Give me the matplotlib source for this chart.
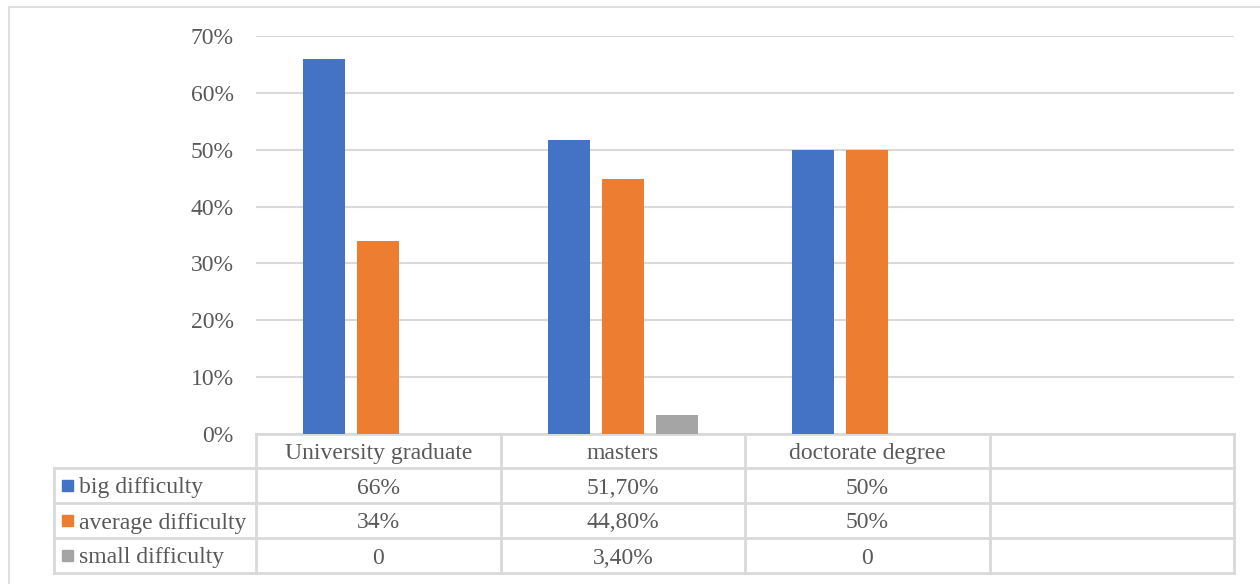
import matplotlib.pyplot as plt
from matplotlib.patches import Rectangle
from matplotlib.lines import Line2D

plt.rcParams['font.family'] = ['Liberation Serif', 'DejaVu Serif']

categories = ["University graduate", "masters", "doctorate degree", ""]
series_names = ["big difficulty", "average difficulty", "small difficulty"]
big = [0.66, 0.517, 0.50, None]
average = [0.34, 0.448, 0.50, None]
small = [0.0, 0.034, 0.0, None]
table_text = [
    ["66%", "51,70%", "50%", ""],
    ["34%", "44,80%", "50%", ""],
    ["0", "3,40%", "0", ""],
]
yticks = [0, 0.1, 0.2, 0.3, 0.4, 0.5, 0.6, 0.7]
colors = ["#4472C4", "#ED7D31", "#A5A5A5"]
text_col = "#595959"
line_col = "#D9D9D9"
fs = 17

W, H = 1260, 584
fig = plt.figure(figsize=(W / 100, H / 100), dpi=100)

# chart area border
fig.patches.append(Rectangle((8.5 / W, -0.05), 1.2, 1 - 6.5 / H + 0.05,
                             transform=fig.transFigure, fill=False,
                             edgecolor=line_col, linewidth=1.2))

left, right, top, bottom = 256, 1234, 36, 434
ax = fig.add_axes([left / W, 1 - bottom / H, (right - left) / W, (bottom - top) / H])

n = len(categories)
width = 0.172
step = 0.221
for k, (vals, color) in enumerate(zip([big, average, small], colors)):
    xs = [i + (k - 1) * step for i in range(n) if vals[i] is not None]
    hs = [v for v in vals if v is not None]
    ax.bar(xs, hs, width=width, color=color, zorder=3)

ax.set_xlim(-0.5, n - 0.5)
ax.set_ylim(0, 0.7)
ax.set_yticks(yticks)
ax.set_yticklabels([f"{int(round(t * 100))}%" for t in yticks])
ax.tick_params(axis='y', length=0, pad=16, labelsize=fs, labelcolor=text_col)
ax.tick_params(axis='x', length=0, labelbottom=False)
ax.grid(axis='y', color=line_col, linewidth=1.5, zorder=0)
for s in ax.spines.values():
    s.set_visible(False)

# data table below the plot
ax_h = bottom - top
row_edges = [0, -34 / ax_h, -69 / ax_h, -104 / ax_h, -139 / ax_h]
label_left = (54 - left) / (right - left)
tx = ax.get_xaxis_transform()
lw = 2.0

def hline(x0, x1, y, transform):
    ax.add_line(Line2D([x0, x1], [y, y], transform=transform, color=line_col,
                       linewidth=lw, clip_on=False, zorder=2))

def vline(x, y0, y1, transform):
    ax.add_line(Line2D([x, x], [y0, y1], transform=transform, color=line_col,
                       linewidth=lw, clip_on=False, zorder=2))

hline(-0.5, n - 0.5, row_edges[0], tx)
for y in row_edges[1:]:
    hline(label_left, 1, y, ax.transAxes)
for i in range(n + 1):
    vline(i - 0.5, row_edges[0], row_edges[-1], tx)
vline(label_left, row_edges[1], row_edges[-1], ax.transAxes)

for i, cat in enumerate(categories):
    ax.text(i, (row_edges[0] + row_edges[1]) / 2, cat, transform=tx,
            ha='center', va='center_baseline', fontsize=fs, color=text_col)

sq = 11 / (right - left)
for r, name in enumerate(series_names):
    yc = (row_edges[r + 1] + row_edges[r + 2]) / 2
    ax.add_patch(Rectangle((label_left + 8 / (right - left), yc - 5.5 / ax_h), sq, 11 / ax_h,
                           transform=ax.transAxes, color=colors[r], clip_on=False))
    ax.text(label_left + 25 / (right - left), yc, name, transform=ax.transAxes,
            ha='left', va='center_baseline', fontsize=fs, color=text_col)
    for i in range(n):
        ax.text(i, yc, table_text[r][i], transform=tx,
                ha='center', va='center_baseline', fontsize=fs, color=text_col)

fig.savefig("out.png", dpi=100)
